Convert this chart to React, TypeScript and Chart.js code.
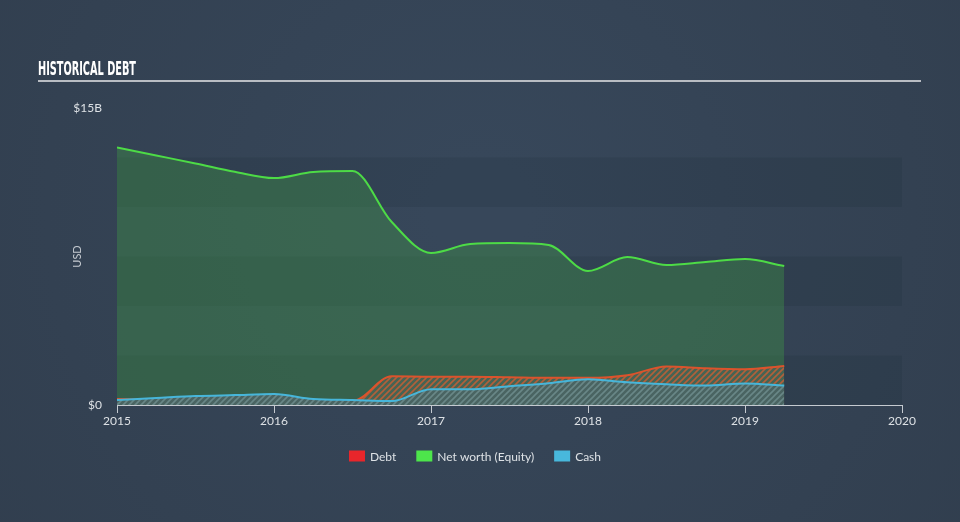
import React, { useEffect, useRef } from "react";
import { Chart, registerables } from "chart.js";

Chart.register(...registerables);

const quarters = [2015, 2015.25, 2015.5, 2015.75, 2016, 2016.25, 2016.5, 2016.75, 2017, 2017.25, 2017.5, 2017.75, 2018, 2018.25, 2018.5, 2018.75, 2019, 2019.25];
const netWorth = [13.0, 12.6, 12.2, 11.78, 11.46, 11.77, 11.82, 9.24, 7.68, 8.13, 8.18, 8.08, 6.77, 7.47, 7.07, 7.22, 7.37, 7.02];
const debt = [0.3, 0.25, 0.2, 0.2, 0.2, 0.2, 0.2, 1.45, 1.43, 1.43, 1.4, 1.37, 1.37, 1.5, 1.95, 1.85, 1.8, 1.97];
const cash = [0.25, 0.35, 0.45, 0.5, 0.55, 0.3, 0.25, 0.2, 0.8, 0.8, 0.95, 1.1, 1.3, 1.15, 1.05, 0.98, 1.08, 0.98];
const yTicks = [0, 15];
const yTickLabels = ["$0", "$15B"];
const bands = [[0, 2.5], [5, 7.5], [10, 12.5]];
const title = "HISTORICAL DEBT";
const yTitle = "USD";

const FONT = "Lato, 'Open Sans', sans-serif";

function makeHatch(bg: string, line: string) {
  const c = document.createElement("canvas");
  c.width = 6;
  c.height = 6;
  const x = c.getContext("2d")!;
  x.fillStyle = bg;
  x.fillRect(0, 0, 6, 6);
  x.strokeStyle = line;
  x.lineWidth = 1.6;
  x.beginPath();
  x.moveTo(-1, 7);
  x.lineTo(7, -1);
  x.moveTo(-1, 1);
  x.lineTo(1, -1);
  x.moveTo(5, 7);
  x.lineTo(7, 5);
  x.stroke();
  return x.createPattern(c, "repeat")!;
}

export default function App() {
  const ref = useRef<HTMLCanvasElement>(null);
  useEffect(() => {
    document.body.style.margin = "0";
    const canvas = ref.current!;
    const debtPattern = makeHatch("rgba(70,100,84,1)", "rgba(190,95,55,0.9)");
    const cashPattern = makeHatch("rgba(74,100,98,1)", "rgba(105,135,135,1)");

    const bgPlugin = {
      id: "bg",
      beforeDraw(chart: any) {
        const { ctx, width, height, chartArea, scales } = chart;
        ctx.save();
        const g = ctx.createRadialGradient(width / 2, height * 0.4, 50, width / 2, height * 0.4, width * 0.65);
        g.addColorStop(0, "#37475a");
        g.addColorStop(1, "#313e4e");
        ctx.fillStyle = g;
        ctx.fillRect(0, 0, width, height);
        ctx.fillStyle = "rgba(20,30,45,0.12)";
        for (const [a, b] of bands) {
          const y1 = scales.y.getPixelForValue(b);
          const y2 = scales.y.getPixelForValue(a);
          ctx.fillRect(chartArea.left, y1, chartArea.right - chartArea.left, y2 - y1);
        }
        // title
        ctx.fillStyle = "#ffffff";
        ctx.font = "bold 20px 'Liberation Sans Narrow', 'DejaVu Sans Condensed', sans-serif";
        ctx.textBaseline = "alphabetic";
        const w = ctx.measureText(title).width;
        ctx.translate(38, 75);
        ctx.scale(98 / w, 1);
        ctx.fillText(title, 0, 0);
        ctx.restore();
        ctx.save();
        ctx.fillStyle = "#b9bdc3";
        ctx.fillRect(38, 80, 883, 2);
        ctx.restore();
      },
      afterDraw(chart: any) {
        const { ctx } = chart;
        ctx.save();
        ctx.font = `12px ${FONT}`;
        ctx.textBaseline = "middle";
        const items = chart.data.datasets.map((d: any) => ({ label: d.label, color: d.legendColor }));
        const boxW = 16, boxH = 11, gap = 5, sep = 20;
        const widths = items.map((it: any) => boxW + gap + ctx.measureText(it.label).width);
        const total = widths.reduce((a: number, b: number) => a + b, 0) + sep * (items.length - 1);
        let x = 475 - total / 2;
        const y = 456;
        items.forEach((it: any, i: number) => {
          ctx.fillStyle = it.color;
          ctx.fillRect(x, y - boxH / 2, boxW, boxH);
          ctx.fillStyle = "#dde1e5";
          ctx.fillText(it.label, x + boxW + gap, y + 1);
          x += widths[i] + sep;
        });
        ctx.restore();
      },
    };

    const chart = new Chart(canvas, {
      type: "line",
      data: {
        datasets: [
          {
            label: "Debt",
            data: quarters.map((q, i) => ({ x: q, y: debt[i] })),
            borderColor: "#dc532c",
            backgroundColor: debtPattern,
            fill: "origin",
            borderWidth: 2,
            pointRadius: 0,
            cubicInterpolationMode: "monotone",
            order: 2,
            legendColor: "#e8262b",
          } as any,
          {
            label: "Net worth (Equity)",
            data: quarters.map((q, i) => ({ x: q, y: netWorth[i] })),
            borderColor: "#4ddb46",
            backgroundColor: "rgba(66,160,70,0.35)",
            fill: "origin",
            borderWidth: 2,
            pointRadius: 0,
            cubicInterpolationMode: "monotone",
            order: 3,
            legendColor: "#4de54b",
          } as any,
          {
            label: "Cash",
            data: quarters.map((q, i) => ({ x: q, y: cash[i] })),
            borderColor: "#47b6da",
            backgroundColor: cashPattern,
            fill: "origin",
            borderWidth: 2,
            pointRadius: 0,
            cubicInterpolationMode: "monotone",
            order: 1,
            legendColor: "#48b8dc",
          } as any,
        ],
      },
      options: {
        animation: false,
        responsive: false,
        devicePixelRatio: 1,
        layout: { padding: { left: 67, right: 58, top: 108, bottom: 87 } },
        plugins: { legend: { display: false }, tooltip: { enabled: false } },
        scales: {
          x: {
            type: "linear",
            min: 2015,
            max: 2020,
            afterBuildTicks: (s: any) => {
              s.ticks = [2015, 2016, 2017, 2018, 2019, 2020].map((v) => ({ value: v }));
            },
            afterFit: (s: any) => {
              s.height = 30;
            },
            ticks: {
              color: "#dde1e5",
              font: { family: FONT, size: 12 },
              padding: 1,
              maxRotation: 0,
              callback: (v: any) => String(v),
            },
            grid: { display: true, drawOnChartArea: false, drawTicks: true, tickLength: 8, color: "#c5cad0", lineWidth: 1 },
            border: { display: true, color: "#c5cad0", width: 1 },
          },
          y: {
            type: "linear",
            min: 0,
            max: 15,
            afterBuildTicks: (s: any) => {
              s.ticks = yTicks.map((v) => ({ value: v }));
            },
            afterFit: (s: any) => {
              s.width = 50;
            },
            ticks: {
              color: "#dde1e5",
              font: { family: FONT, size: 12 },
              padding: 7,
              callback: (v: any) => yTickLabels[yTicks.indexOf(Number(v))],
            },
            grid: { display: false },
            border: { display: false },
            title: { display: true, text: yTitle, color: "#c5cad0", font: { family: FONT, size: 11 }, padding: { top: 4, bottom: 0 } },
          },
        },
      },
      plugins: [bgPlugin],
    } as any);
    return () => chart.destroy();
  }, []);
  return (
    <div style={{ width: 960, height: 522, position: "relative" }}>
      <canvas ref={ref} width={960} height={522} style={{ display: "block", width: 960, height: 522 }} />
    </div>
  );
}
